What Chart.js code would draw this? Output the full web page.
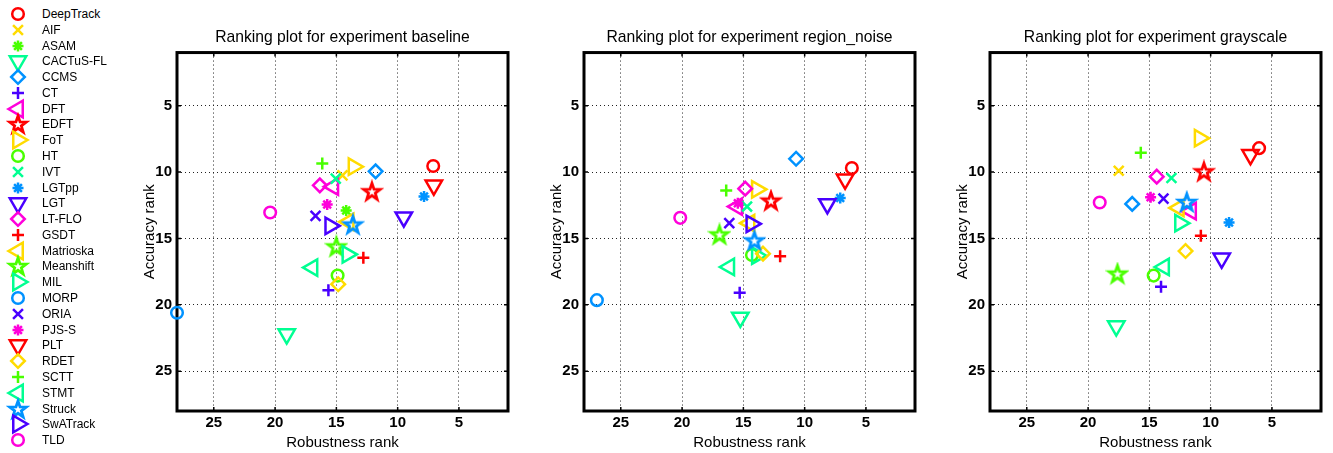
<!DOCTYPE html>
<html>
<head>
<meta charset="utf-8">
<script src="https://cdn.jsdelivr.net/npm/chart.js@4.4.1/dist/chart.umd.min.js"></script>
<style>
  body { margin: 0; background: #fff; width: 1333px; height: 453px; overflow: hidden; position: relative;
         font-family: "Liberation Sans", Arial, sans-serif; }
  canvas.panel { position: absolute; top: 0; }
  #legend { position: absolute; left: 0; top: 0; }
  .row { position: absolute; left: 0; height: 24px; }
  .row canvas { position: absolute; left: 0; top: 0; }
  .row span { position: absolute; left: 42px; top: 4px; font-size: 12px; line-height: 16px; white-space: nowrap; color: #000; }
</style>
</head>
<body>
<div id="legend"></div>
<canvas id="p0" class="panel" width="379" height="453" style="left:141px"></canvas>
<canvas id="p1" class="panel" width="379" height="453" style="left:548px"></canvas>
<canvas id="p2" class="panel" width="379" height="453" style="left:954px"></canvas>

<script>
// trackers in legend order
const trackers = ['DeepTrack', 'AIF', 'ASAM', 'CACTuS-FL', 'CCMS', 'CT', 'DFT', 'EDFT', 'FoT', 'HT',
  'IVT', 'LGTpp', 'LGT', 'LT-FLO', 'GSDT', 'Matrioska', 'Meanshift', 'MIL', 'MORP', 'ORIA',
  'PJS-S', 'PLT', 'RDET', 'SCTT', 'STMT', 'Struck', 'SwATrack', 'TLD'];

const rankTicks = [5, 10, 15, 20, 25];

// baseline
const baselineRobustness = [7.1, 14.5, 14.2, 19.05, 11.8, 15.65, 15.25, 12.1, 13.6, 14.9,
  15.05, 7.85, 9.5, 16.35, 12.8, 14.0, 15.0, 14.1, 28.0, 16.7,
  15.75, 7.05, 14.85, 16.15, 16.95, 13.65, 15.5, 20.4];
const baselineAccuracy = [9.55, 10.25, 12.9, 22.2, 9.95, 18.9, 11.1, 11.45, 9.6, 17.8,
  10.5, 11.85, 13.4, 11.0, 16.45, 13.75, 15.6, 16.2, 20.6, 13.3,
  12.45, 11.0, 18.45, 9.35, 17.2, 13.95, 14.05, 13.05];

// region_noise
const noiseRobustness = [6.15, null, null, 15.25, 10.7, 15.3, 15.5, 12.75, 13.9, 14.3,
  14.7, 7.1, 8.15, 14.85, 12.0, 14.5, 16.95, 13.9, 26.95, 16.15,
  15.45, 6.7, 13.4, 16.4, 16.15, 14.1, 14.35, 20.15];
const noiseAccuracy = [9.7, null, null, 20.95, 9.0, 19.1, 12.6, 12.15, 11.3, 16.25,
  12.6, 11.95, 12.4, 11.25, 16.35, 13.85, 14.7, 16.3, 19.65, 13.85,
  12.35, 10.55, 16.15, 11.4, 17.15, 15.15, 13.9, 13.45];

// grayscale
const grayRobustness = [6.05, 17.5, null, 17.7, 16.4, 14.05, 11.6, 10.55, 10.9, 14.65,
  13.2, 8.5, 9.1, 14.4, 10.8, 12.6, 17.6, 12.5, null, 13.85,
  14.9, 6.75, 12.05, 15.7, 13.8, 11.95, null, 19.05];
const grayAccuracy = [8.2, 9.9, null, 21.6, 12.4, 18.65, 12.95, 9.95, 7.45, 17.8,
  10.45, 13.8, 16.5, 10.35, 14.8, 12.7, 17.65, 13.85, null, 12.0,
  11.9, 8.7, 15.95, 8.55, 17.15, 12.25, null, 12.3];

// styling: hsv(7) colours and a 9-marker cycle
const palette = ['#FF0000', '#FFDB00', '#49FF00', '#00FF92', '#0092FF', '#4900FF', '#FF00DB'];

function pentagram(color) {
  const c = document.createElement('canvas');
  c.width = 24; c.height = 24;
  const g = c.getContext('2d');
  g.strokeStyle = color; g.lineWidth = 2.8; g.lineJoin = 'miter';
  g.beginPath();
  for (let k = 0; k < 10; k++) {
    const r = k % 2 === 0 ? 8.8 : 3.5;
    const a = -Math.PI / 2 + k * Math.PI / 5;
    const px = 12 + r * Math.cos(a), py = 12.8 + r * Math.sin(a);
    if (k === 0) g.moveTo(px, py); else g.lineTo(px, py);
  }
  g.closePath();
  g.stroke();
  return c;
}

function marker(i) {
  const color = palette[i % 7];
  switch (i % 9) {
    case 0: return { pointStyle: 'circle', rotation: 0, radius: 5.8 };
    case 1: return { pointStyle: 'crossRot', rotation: 0, radius: 7 };
    case 2: return { pointStyle: 'star', rotation: 0, radius: 5.5 };
    case 3: return { pointStyle: 'triangle', rotation: 180, radius: 9.5 };
    case 4: return { pointStyle: 'rectRot', rotation: 0, radius: 6.8 };
    case 5: return { pointStyle: 'cross', rotation: 0, radius: 6 };
    case 6: return { pointStyle: 'triangle', rotation: 270, radius: 9.5 };
    case 7: return { pointStyle: pentagram(color), rotation: 0, radius: 9 };
    case 8: return { pointStyle: 'triangle', rotation: 90, radius: 9.5 };
  }
}

Chart.defaults.font.family = '"Liberation Sans", Arial, sans-serif';
Chart.defaults.color = '#000';

const boxPlugin = {
  id: 'box',
  beforeDatasetsDraw(chart) {
    const { ctx, chartArea: a, scales } = chart;
    ctx.save();
    ctx.strokeStyle = '#000';
    ctx.lineWidth = 1.5;
    ctx.beginPath();
    rankTicks.forEach(v => {
      const x = scales.x.getPixelForValue(v), y = scales.y.getPixelForValue(v);
      ctx.moveTo(x, a.bottom); ctx.lineTo(x, a.bottom - 4);
      ctx.moveTo(x, a.top); ctx.lineTo(x, a.top + 4);
      ctx.moveTo(a.left, y); ctx.lineTo(a.left + 4, y);
      ctx.moveTo(a.right, y); ctx.lineTo(a.right - 4, y);
    });
    ctx.stroke();
    ctx.lineWidth = 3;
    ctx.strokeRect(a.left, a.top, a.right - a.left, a.bottom - a.top);
    ctx.restore();
  }
};

function makePanel(id, title, rob, acc) {
  const datasets = trackers.map((name, i) => {
    const m = marker(i);
    return {
      label: name,
      data: rob[i] == null ? [] : [{ x: rob[i], y: acc[i] }],
      pointStyle: m.pointStyle,
      rotation: m.rotation,
      pointRadius: m.radius,
      pointHoverRadius: m.radius,
      pointBorderWidth: 2.5,
      pointBorderColor: palette[i % 7],
      pointBackgroundColor: 'rgba(0,0,0,0)',
      showLine: false,
      clip: false,
      order: trackers.length - i
    };
  });

  new Chart(document.getElementById(id), {
    type: 'scatter',
    data: { datasets },
    options: {
      responsive: false,
      animation: false,
      devicePixelRatio: 1,
      layout: { padding: { left: 0, right: 2, top: 0, bottom: 0 } },
      plugins: {
        legend: { display: false },
        tooltip: { enabled: false },
        title: {
          display: true, text: title, fullSize: false, color: '#000',
          font: { size: 15.7, weight: 'normal', lineHeight: 1.15 },
          padding: { top: 29, bottom: 5.5 }
        }
      },
      scales: {
        x: {
          type: 'linear', reverse: true, min: 1, max: 28,
          afterBuildTicks: s => { s.ticks = rankTicks.map(v => ({ value: v })); },
          afterFit: s => { s.height = 42; },
          grid: { color: '#222', lineWidth: 1, drawTicks: false },
          border: { display: false, dash: [1, 3] },
          ticks: { padding: 3, autoSkip: false, maxRotation: 0, color: '#000', font: { size: 15, weight: 'bold' } },
          title: { display: true, text: 'Robustness rank', color: '#000', font: { size: 15 }, padding: { top: 0, bottom: 1 } }
        },
        y: {
          type: 'linear', reverse: true, min: 1, max: 28,
          afterBuildTicks: s => { s.ticks = rankTicks.map(v => ({ value: v })); },
          afterFit: s => { s.width = 36; },
          grid: { color: '#222', lineWidth: 1, drawTicks: false },
          border: { display: false, dash: [1, 3] },
          ticks: { padding: 5, autoSkip: false, color: '#000', font: { size: 15, weight: 'bold' } },
          title: { display: true, text: 'Accuracy rank', color: '#000', font: { size: 15 }, padding: 0 }
        }
      }
    },
    plugins: [boxPlugin]
  });
}

makePanel('p0', 'Ranking plot for experiment baseline', baselineRobustness, baselineAccuracy);
makePanel('p1', 'Ranking plot for experiment region_noise', noiseRobustness, noiseAccuracy);
makePanel('p2', 'Ranking plot for experiment grayscale', grayRobustness, grayAccuracy);

// legend column on the left
const legend = document.getElementById('legend');
trackers.forEach((name, i) => {
  const row = document.createElement('div');
  row.className = 'row';
  row.style.top = (14 + i * 15.78 - 12) + 'px';
  const c = document.createElement('canvas');
  c.width = 36; c.height = 24;
  const ctx = c.getContext('2d');
  const m = marker(i);
  ctx.strokeStyle = palette[i % 7];
  ctx.fillStyle = 'rgba(0,0,0,0)';
  ctx.lineWidth = 2.5;
  Chart.helpers.drawPoint(ctx, { pointStyle: m.pointStyle, rotation: m.rotation, radius: m.radius, borderWidth: 2.5 }, 18, 12);
  const label = document.createElement('span');
  label.textContent = name;
  row.appendChild(c);
  row.appendChild(label);
  legend.appendChild(row);
});
</script>
</body>
</html>
